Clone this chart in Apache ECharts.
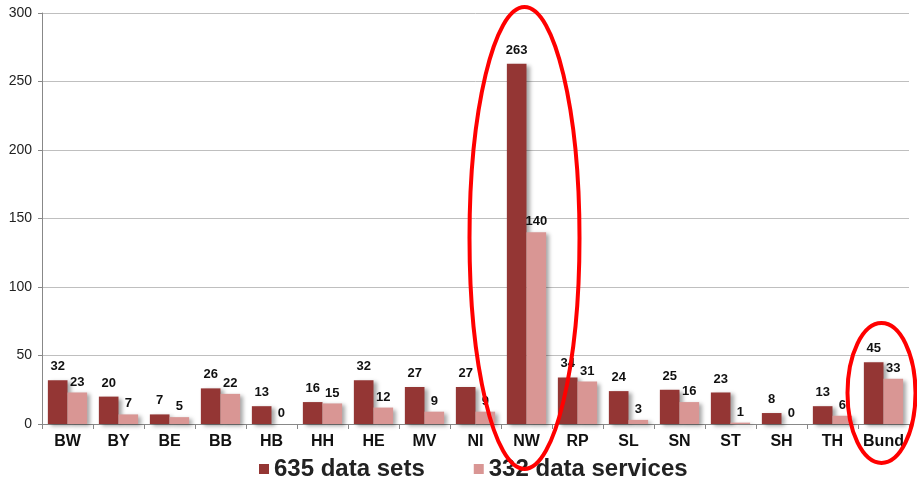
<!DOCTYPE html>
<html><head><meta charset="utf-8">
<script src="https://cdn.jsdelivr.net/npm/echarts@6/dist/echarts.min.js"></script>
<style>html,body{margin:0;padding:0;background:#fff}#c{width:917px;height:481px}</style>
</head><body><div id="c"></div>
<script>
var categories = ['BW','BY','BE','BB','HB','HH','HE','MV','NI','NW','RP','SL','SN','ST','SH','TH','Bund'];
var dataSets = [32,20,7,26,13,16,32,27,27,263,34,24,25,23,8,13,45];
var dataServices = [23,7,5,22,0,15,12,9,9,140,31,3,16,1,0,6,33];
var seriesNames = ['635 data sets','332 data services'];
var yTicks = {min:0, max:300, interval:50};

var chart = echarts.init(document.getElementById('c'));
var font = 'Liberation Sans, Arial, sans-serif';
var shadow = {shadowBlur:4, shadowColor:'rgba(0,0,0,0.35)', shadowOffsetX:3, shadowOffsetY:2};
chart.setOption({
  animation:false,
  textStyle:{fontFamily:font},
  grid:{left:42, right:8, top:13, bottom:57},
  legend:{
    left:254, top:452, itemWidth:10, itemHeight:10, itemGap:49,
    icon:'rect',
    textStyle:{fontSize:24, fontWeight:'bold', color:'#222', fontFamily:font},
    data:seriesNames
  },
  xAxis:{
    type:'category', data:categories,
    axisLine:{lineStyle:{color:'#888'}},
    axisTick:{show:true, length:5, lineStyle:{color:'#888'}},
    axisLabel:{fontSize:16, fontWeight:'bold', color:'#111', margin:10, interval:0}
  },
  yAxis:{
    type:'value', min:yTicks.min, max:yTicks.max, interval:yTicks.interval,
    axisLine:{show:true, lineStyle:{color:'#888'}},
    axisTick:{show:true, length:4, lineStyle:{color:'#888'}},
    splitLine:{lineStyle:{color:'#bfbfbf'}},
    axisLabel:{fontSize:14, color:'#222', margin:10}
  },
  series:[
    {name:seriesNames[0], type:'bar', data:dataSets, barGap:'0%', barCategoryGap:'23%',
     itemStyle:Object.assign({color:'#943634'}, shadow),
     label:{show:true, position:'top', fontSize:13, fontWeight:'bold', color:'#111', distance:7}},
    {name:seriesNames[1], type:'bar', data:dataServices,
     itemStyle:Object.assign({color:'#d99694'}, shadow),
     label:{show:true, position:'top', fontSize:13, fontWeight:'bold', color:'#111', distance:4}}
  ]
});
// annotation ellipses around NW and Bund, positioned from the axis scales
var pNW = chart.convertToPixel({xAxisIndex:0, yAxisIndex:0}, ['NW', 0]);
var pB = chart.convertToPixel({xAxisIndex:0, yAxisIndex:0}, ['Bund', 0]);
chart.setOption({
  graphic:[
    {type:'ellipse', shape:{cx:pNW[0]-2, cy:238, rx:55, ry:231}, style:{fill:null, stroke:'#ff0000', lineWidth:4}, z:100},
    {type:'ellipse', shape:{cx:pB[0]-2, cy:393, rx:34, ry:70}, style:{fill:null, stroke:'#ff0000', lineWidth:4}, z:100}
  ]
});
</script></body></html>
